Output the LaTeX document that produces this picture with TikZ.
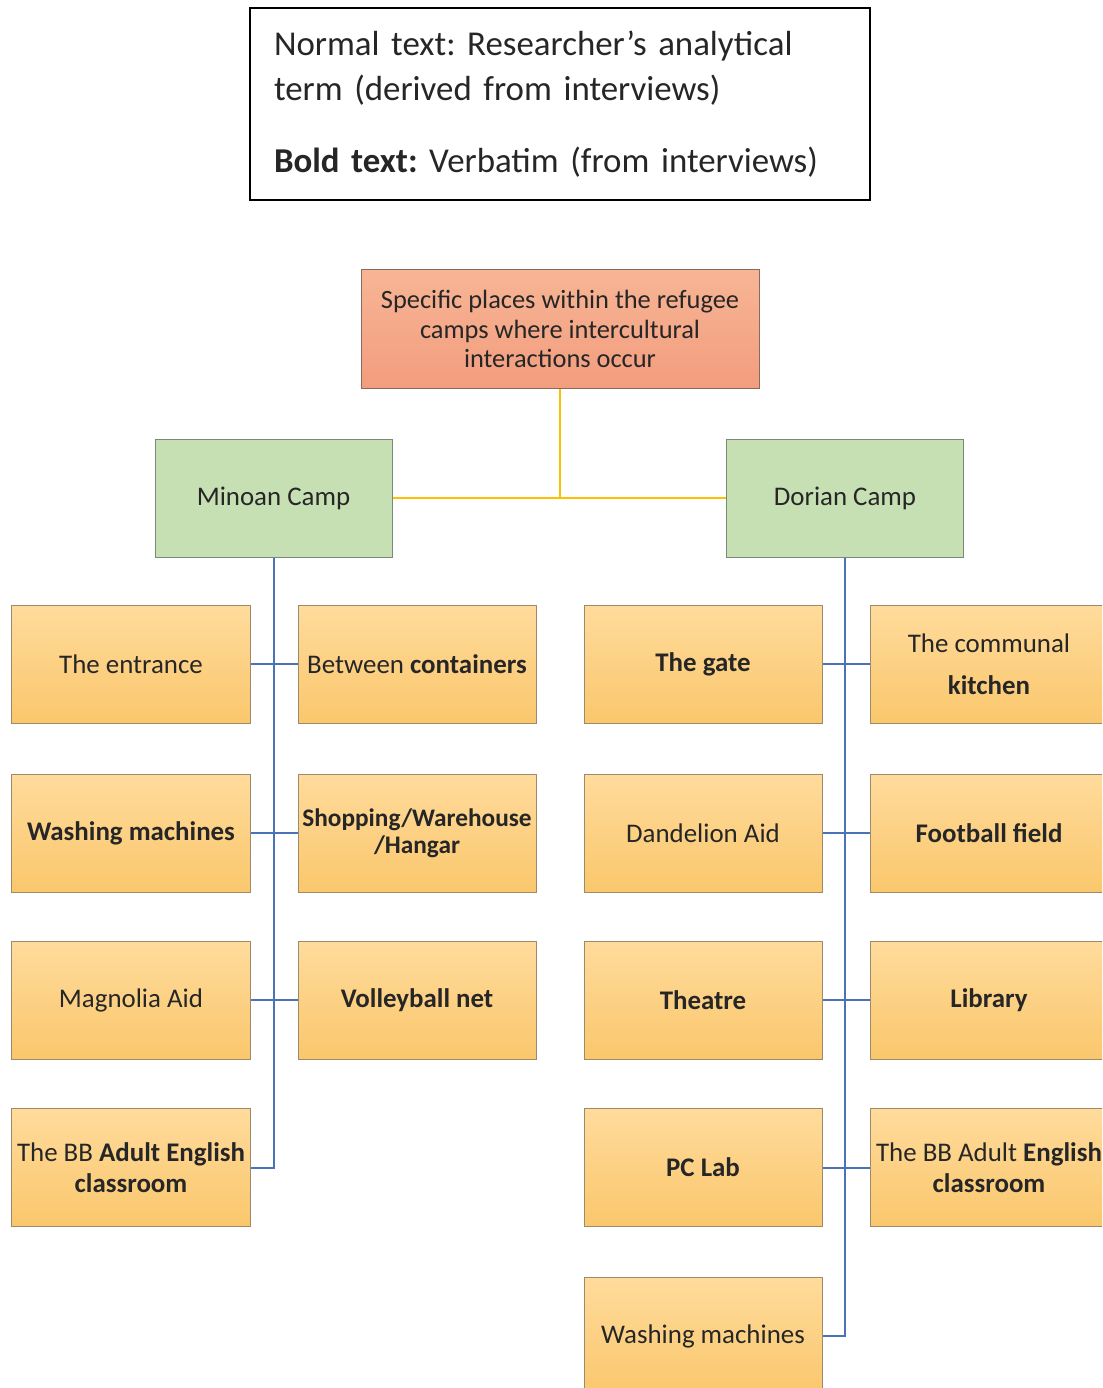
\documentclass[tikz,border=0pt]{standalone}
\usepackage{fontspec}
\setmainfont{Carlito}
\frenchspacing
\definecolor{txt}{HTML}{262626}
\definecolor{orTop}{HTML}{FFDB9C}
\definecolor{orBot}{HTML}{FAC76C}
\definecolor{orLine}{HTML}{9C8A6A}
\definecolor{grFill}{HTML}{C6E0B4}
\definecolor{grLine}{HTML}{7A8A78}
\definecolor{saTop}{HTML}{F7B595}
\definecolor{saBot}{HTML}{F29D7E}
\definecolor{saLine}{HTML}{8A6A5E}
\definecolor{yelLine}{HTML}{FFC000}
\definecolor{bluLine}{HTML}{4A72B8}
\tikzset{
  place/.style={rectangle, draw=orLine, line width=1bp, top color=orTop, bottom color=orBot,
    minimum width=238bp, minimum height=118bp, inner sep=0pt, align=center, text=txt,
    font=\fontsize{27}{31}\selectfont},
  camp/.style={rectangle, draw=grLine, line width=1bp, fill=grFill,
    minimum width=237bp, minimum height=118bp, align=center, text=txt,
    font=\fontsize{27}{31}\selectfont},
  rootbox/.style={rectangle, draw=saLine, line width=1bp, top color=saTop, bottom color=saBot,
    minimum width=398bp, minimum height=118bp, align=center, text=txt,
    font=\fontsize{26.5}{29.5}\selectfont},
  yel/.style={draw=yelLine, line width=2bp},
  blu/.style={draw=bluLine, line width=2bp},
}
\begin{document}
\begin{tikzpicture}[x=1bp,y=-1bp]
\clip (0,0) rectangle (1102,1388);
\fill[white] (0,0) rectangle (1102,1388);

% legend
\node[rectangle, draw=black, line width=1.2bp, minimum width=620bp, minimum height=192bp,
  text width=572bp, align=left, inner sep=0pt, text=txt,
  font=\fontsize{35}{46}\selectfont] (legend) at (560,104)
  {Normal text: Researcher’s analytical\\ term (derived from interviews)\\[26bp]
   \textbf{Bold text:} Verbatim (from interviews)};

% root and camps
\node[rootbox] (root) at (560,329) {Specific places within the refugee\\ camps where intercultural\\ interactions occur};
\node[camp] (minoan) at (273.5,498) {Minoan Camp};
\node[camp] (dorian) at (845,498) {Dorian Camp};

% Minoan places
\node[place] (entr) at (131,664) {The entrance};
\node[place] (betw) at (417,664) {Between \textbf{containers}};
\node[place] (washL) at (131,833) {\textbf{Washing machines}};
\node[place, font=\fontsize{25.4}{27}\selectfont] (shop) at (417,833) {\textbf{Shopping/Warehouse}\\ \textbf{/Hangar}};
\node[place] (magn) at (131,1000) {Magnolia Aid};
\node[place] (volley) at (417,1000) {\textbf{Volleyball net}};
\node[place] (bbL) at (131,1167.5) {The BB \textbf{Adult English}\\ \textbf{classroom}};

% Dorian places
\node[place] (gate) at (703,664) {\textbf{The gate}};
\node[place, font=\fontsize{27}{42}\selectfont] (kitchen) at (989,664) {The communal\\ \textbf{kitchen}};
\node[place] (dand) at (703,833) {Dandelion Aid};
\node[place] (foot) at (989,833) {\textbf{Football field}};
\node[place] (theatre) at (703,1000) {\textbf{Theatre}};
\node[place] (lib) at (989,1000) {\textbf{Library}};
\node[place] (pclab) at (703,1167.5) {\textbf{PC Lab}};
\node[place] (bbR) at (989,1167.5) {The BB Adult \textbf{English}\\ \textbf{classroom}};
\node[place] (washR) at (703,1336) {Washing machines};

% yellow connectors
\draw[yel] (root.south) -- (root.south |- minoan.east);
\draw[yel] (minoan.east) -- (dorian.west);

% blue connectors, Minoan
\draw[blu] (minoan.south) -- (minoan.south |- bbL.east) -- (bbL.east);
\draw[blu] (entr.east) -- (betw.west);
\draw[blu] (washL.east) -- (shop.west);
\draw[blu] (magn.east) -- (volley.west);

% blue connectors, Dorian
\draw[blu] (dorian.south) -- (dorian.south |- washR.east) -- (washR.east);
\draw[blu] (gate.east) -- (kitchen.west);
\draw[blu] (dand.east) -- (foot.west);
\draw[blu] (theatre.east) -- (lib.west);
\draw[blu] (pclab.east) -- (bbR.west);
\end{tikzpicture}
\end{document}
